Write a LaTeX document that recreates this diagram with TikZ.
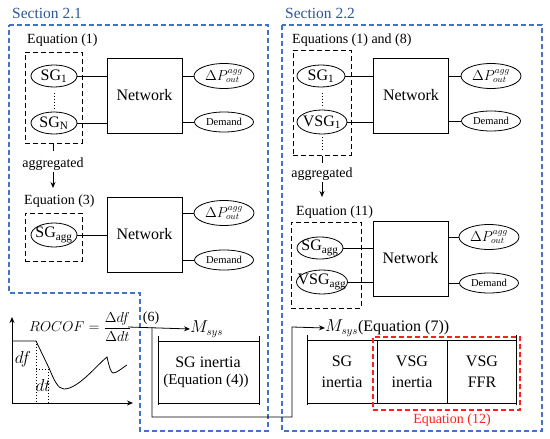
\documentclass[tikz,border=0pt]{standalone}
\usepackage{fontspec}
\setmainfont{Liberation Serif}
\usetikzlibrary{shapes.geometric,arrows.meta}
\definecolor{secblue}{HTML}{2F5597}
\definecolor{boxblue}{HTML}{4472C4}
\definecolor{redc}{HTML}{FF1F1F}
\newcommand\fsSec{\fontsize{15.5}{18}\selectfont}
\newcommand\fsEq{\fontsize{14}{16}\selectfont}
\newcommand\fsP{\fontsize{13.5}{16}\selectfont}
\newcommand\fsMid{\fontsize{15}{18}\selectfont}
\newcommand\fsBig{\fontsize{16}{21}\selectfont}
\newcommand\fsDem{\fontsize{10.6}{12}\selectfont}
\newcommand\mb[1]{\makebox[0pt]{#1}}
\begin{document}
\begin{tikzpicture}[x=1pt,y=-1pt,
  bluebox/.style={draw=boxblue,line width=1.3pt,dash pattern=on 5pt off 3pt},
  blkbox/.style={draw=black,line width=1pt,dash pattern=on 5pt off 3pt,inner sep=0pt},
  redbox/.style={draw=redc,line width=1.3pt,dash pattern=on 5pt off 3pt,inner sep=0pt},
  netbox/.style={draw,line width=1pt,minimum width=75pt,minimum height=75pt,inner sep=0pt,font=\fsBig},
  gen/.style={ellipse,draw,line width=0.8pt,inner sep=0pt,minimum width=46pt,minimum height=22pt,font=\fsBig},
  pout/.style={ellipse,draw,line width=0.8pt,inner sep=0pt,minimum width=60pt,minimum height=25pt,font=\fsP},
  dem/.style={ellipse,draw,line width=0.8pt,inner sep=0pt,minimum width=59pt,minimum height=20pt,font=\fsDem},
  wire/.style={draw,line width=0.8pt},
  dots/.style={draw,line width=1pt,dash pattern=on 1pt off 2pt},
  lbl/.style={inner sep=0pt,font=\fsEq},
  arr/.style={draw,line width=0.8pt,-{Stealth[length=6pt,width=5pt]}}
]
\useasboundingbox (0,0) rectangle (550,439);
% section frames
\draw[bluebox] (9,25) -- (268,25) -- (268,431) -- (140,431) -- (140,293) -- (9,293) -- cycle;
\draw[bluebox] (282,25) rectangle (542,431);
\node[inner sep=0pt,anchor=base west,font=\fsSec,text=secblue] (sec1) at (12,18) {Section 2.1};
\node[inner sep=0pt,anchor=base west,font=\fsSec,text=secblue] (sec2) at (285,18) {Section 2.2};

% ---- left row 1
\node[lbl,anchor=base west] (eq1) at (27,43) {Equation (1)};
\node[blkbox,minimum width=57pt,minimum height=91pt] (grp1) at (53.5,97.5) {};
\node[gen] (sg1) at (54,76) {\mb{SG\textsubscript{1}}};
\node[gen] (sgN) at (54,123) {\mb{SG\textsubscript{N}}};
\draw[dots] (54,93) -- (54,110);
\node[netbox] (net1) at (144.5,95.5) {Network};
\node[pout] (dp1) at (224,76) {\mb{$\Delta P_{out}^{agg}$}};
\node[dem] (dem1) at (224,122) {\mb{Demand}};
\draw[wire] (sg1.east) -- (sg1.east -| net1.west);
\draw[wire] (sgN.east) -- (sgN.east -| net1.west);
\draw[wire] (dp1.west -| net1.east) -- (dp1.west);
\draw[wire] (dem1.west -| net1.east) -- (dem1.west);
\node[lbl,anchor=base] (agg1) at (53,167) {aggregated};
\draw[wire] (grp1.south) -- ++(0,7);
\draw[arr] (53,172) -- (53,188);

% ---- left row 2
\node[lbl,anchor=base west] (eq3) at (24,204) {Equation (3)};
\node[blkbox,minimum width=57pt,minimum height=48pt] (grp2) at (53.5,237) {};
\node[gen,minimum height=24pt] (sgagg) at (54,235) {\mb{SG\textsubscript{agg}}};
\node[netbox] (net2) at (144.5,234.5) {Network};
\node[pout] (dp2) at (224,213) {\mb{$\Delta P_{out}^{agg}$}};
\node[dem] (dem2) at (224,260) {\mb{Demand}};
\draw[wire] (sgagg.east) -- (sgagg.east -| net2.west);
\draw[wire] (dp2.west -| net2.east) -- (dp2.west);
\draw[wire] (dem2.west -| net2.east) -- (dem2.west);

% ---- ROCOF graph
\draw[arr] (12,403) -- (12,317);
\draw[arr] (12,403) -- (133,403);
\draw[line width=0.8pt] (12,341) -- (36,341) -- (49,368)
  .. controls (54,380) and (58,389) .. (64,389)
  .. controls (78,389) and (96,366) .. (107,357)
  .. controls (109,366) and (111,373) .. (113,373)
  .. controls (117,373) and (122,368) .. (127,365);
\draw[dots,line width=0.7pt] (36,341) -- (36,403);
\draw[dots,line width=0.7pt] (36,369) -- (48,369) -- (48,403);
\node[inner sep=0pt,font=\fsBig] (df) at (23,359) {$df$};
\node[inner sep=0pt,font=\fsBig] (dt) at (43,385) {$dt$};
\node[inner sep=0pt,font=\fsMid,anchor=west] (rocof) at (29,327) {$\displaystyle ROCOF=\frac{\Delta df}{\Delta dt}$};
\coordinate (a0) at (128,327);
\node[inner sep=0pt,anchor=base,font=\fsEq] (six) at (151,321) {(6)};
\node[inner sep=0pt,anchor=west,font=\fsBig] (msys1) at (190,329) {$M_{sys}$};
\draw[arr] (a0) -- (msys1.west);
% SG inertia box
\draw[line width=0.9pt] (158,336) -- (158,405) (259,336) -- (259,405) (158,341) -- (259,341) (158,403) -- (259,403);
\node[inner sep=0pt,font=\fsBig] (sgin) at (208,362) {SG inertia};
\node[inner sep=0pt,font=\fsMid] (eq4) at (206,381) {(Equation (4))};
% connector to right
\coordinate (b0) at (152,327);
\coordinate (b1) at (152,417);
\coordinate (b2) at (292,417);
\coordinate (b3) at (292,327);
\node[inner sep=0pt,anchor=west,font=\fsBig] (msys2) at (325,328) {$M_{sys}$(Equation (7))};
\draw[arr] (b0) -- (b1) -- (b2) -- (b3) -- (msys2.west);

% ---- right row 1
\node[lbl,anchor=base west] (eq18) at (292,43) {Equations (1) and (8)};
\node[blkbox,minimum width=58pt,minimum height=105pt] (grp3) at (322,102.5) {};
\node[gen,minimum width=48pt] (rsg1) at (321,76) {\mb{SG\textsubscript{1}}};
\node[gen,minimum width=50pt,minimum height=24pt] (rvsg1) at (322,122) {\mb{VSG\textsubscript{1}}};
\draw[dots] (322,93) -- (322,108);
\draw[dots] (322,137) -- (322,152);
\node[netbox] (net3) at (411,95.5) {Network};
\node[pout] (dp3) at (491,76) {\mb{$\Delta P_{out}^{agg}$}};
\node[dem] (dem3) at (491,121) {\mb{Demand}};
\draw[wire] (rsg1.east) -- (rsg1.east -| net3.west);
\draw[wire] (rvsg1.east) -- (rvsg1.east -| net3.west);
\draw[wire] (dp3.west -| net3.east) -- (dp3.west);
\draw[wire] (dem3.west -| net3.east) -- (dem3.west);
\node[lbl,anchor=base] (agg2) at (322,177) {aggregated};
\draw[wire] (grp3.south) -- ++(0,7);
\draw[arr] (322,182) -- (322,197);

% ---- right row 2
\node[lbl,anchor=base west] (eq11) at (296,215) {Equation (11)};
\node[blkbox,minimum width=70pt,minimum height=86pt] (grp4) at (326,265) {};
\node[gen] (rsgagg) at (320,248) {\mb{SG\textsubscript{agg}}};
\node[gen,minimum width=51pt,minimum height=24pt] (rvsgagg) at (322,282) {\mb{VSG\textsubscript{agg}}};
\node[netbox] (net4) at (410.5,258.5) {Network};
\node[pout] (dp4) at (489,237) {\mb{$\Delta P_{out}^{agg}$}};
\node[dem] (dem4) at (489,283) {\mb{Demand}};
\draw[wire] (rsgagg.east) -- (rsgagg.east -| net4.west);
\draw[wire] (rvsgagg.east) -- (rvsgagg.east -| net4.west);
\draw[wire] (dp4.west -| net4.east) -- (dp4.west);
\draw[wire] (dem4.west -| net4.east) -- (dem4.west);

% ---- right inertia box
\draw[line width=0.9pt] (307,335) -- (307,405) (516,335) -- (516,405) (307,340) -- (516,340) (307,403) -- (516,403) (377,340) -- (377,403) (447,340) -- (447,403);
\node[inner sep=0pt,font=\fsBig,align=center] (rsgin) at (342,372) {SG\\inertia};
\node[inner sep=0pt,font=\fsBig,align=center] (rvsgin) at (412,372) {VSG\\inertia};
\node[inner sep=0pt,font=\fsBig,align=center] (rffr) at (482,372) {VSG\\FFR};
\node[redbox,minimum width=147pt,minimum height=73pt] (red) at (446.5,373.5) {};
\node[inner sep=0pt,font=\fsEq,text=redc] (eq12) at (452,420) {Equation (12)};
\end{tikzpicture}
\end{document}
